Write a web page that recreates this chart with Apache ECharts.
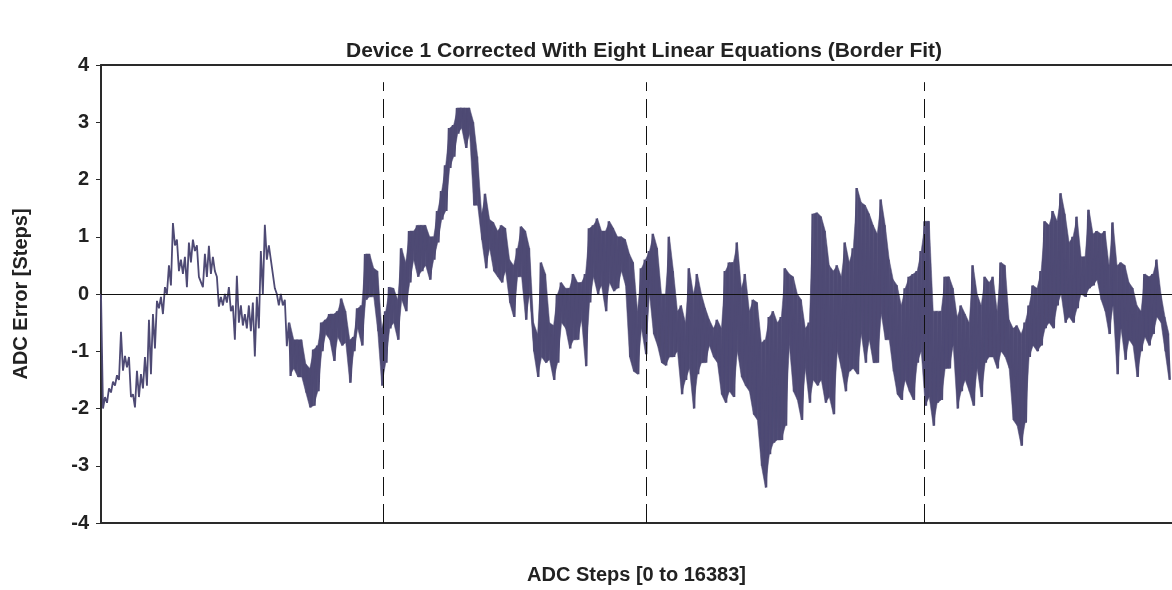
<!DOCTYPE html>
<html>
<head>
<meta charset="utf-8">
<script src="https://cdn.jsdelivr.net/npm/echarts@6/dist/echarts.min.js"></script>
<style>
html,body{margin:0;padding:0;background:#fff;}
#chart{width:1172px;height:590px;}
</style>
</head>
<body>
<div id="chart"></div>
<script>
// ADC steps range of the x axis
const adcStepMax = 16383;
// y axis ticks
const yTicks = [-4, -3, -2, -1, 0, 1, 2, 3, 4];
// segment borders (ADC steps) of the linear-equation fit
const borderSteps = [4314, 8337, 12589];
// first column from which the trace is a dense noise band
const denseFromColumn = 47;
// Error envelope: per evenly spaced column, the upper and lower excursion (steps)
const errorHigh = [
  0, -1.8, -1.65, -1.53, -1.42, -0.66, -1.08, -1.1, -1.75, -1.34,
  -1.4, -1.1, -0.45, -0.35, -0.12, -0.05, 0.12, 0.5, 1.24, 0.95,
  0.6, 0.65, 0.9, 0.95, 0.85, 0.3, 0.7, 0.84, 0.65, 0.3,
  -0.05, 0.0, 0.12, -0.2, 0.32, -0.2, -0.35, -0.2, -0.15, -0.05,
  0.75, 1.21, 0.85, 0.6, 0.0, 0.0, -0.1, -0.5, -0.8, -0.8,
  -0.8, -1.22, -1.3, -0.97, -0.9, -0.5, -0.45, -0.35, -0.35, -0.3,
  -0.08, -0.3, -0.8, -0.75, -0.25, -0.2, 0.7, 0.7, 0.45, 0.4,
  -0.6, -0.3, 0.12, 0.1, -0.1, 0.8, 0.55, 1.1, 1.1, 1.2,
  1.2, 1.2, 1.0, 1.0, 1.45, 1.8, 2.25, 2.9, 2.95, 3.25,
  3.25, 3.25, 3.25, 3.0, 2.4, 1.4, 1.75, 1.3, 1.25, 1.1,
  1.2, 1.15, 0.6, 0.5, 0.8, 1.18, 1.1, 0.8, -0.5, -0.7,
  0.55, 0.35, -0.5, -0.55, 0.0, 0.2, 0.1, 0.1, 0.35, 0.2,
  0.2, 0.35, 1.15, 1.2, 1.32, 1.1, 1.1, 1.27, 1.15, 1.0,
  1.0, 0.95, 0.7, 0.55, -0.3, 0.45, 0.6, 0.75, 1.05, 0.8,
  0.0, 0.0, 1.0, 0.4, -0.3, -0.2, -0.5, 0.45, 0.0, 0.35,
  0.0, -0.25, -0.45, -0.6, -0.45, -0.6, 0.4, 0.55, 0.55, 0.9,
  0.1, 0.35, -0.3, -0.1, -0.15, -0.85, -0.8, -0.4, -0.3, -0.5,
  -0.4, 0.45, 0.35, 0.3, 0.0, -0.1, -0.6, -0.5, 1.4, 1.42,
  1.35, 1.1, 0.5, 0.4, 0.5, 0.3, 0.9, 0.55, 0.8, 1.85,
  1.6, 1.55, 1.4, 1.2, 1.05, 1.65, 1.2, 0.6, 0.25, 0.15,
  -0.2, 0.1, 0.3, 0.35, 0.4, 0.75, 1.27, 1.27, -0.3, -0.3,
  -0.3, 0.3, 0.3, 0.1, -0.4, -0.2, -0.35, -0.5, 0.5, 0.0,
  -0.2, 0.3, 0.2, 0.3, -0.3, 0.55, 0.5, -0.45, -0.6, -0.55,
  -0.7, -0.5, -0.2, 0.15, 0.1, 0.4, 1.27, 1.2, 1.45, 1.27,
  1.76, 1.4, 0.9, 1.0, 1.35, 0.65, 0.65, 1.47, 1.05, 1.1,
  1.05, 1.1, 0.5, 1.25, 0.5, 0.55, 0.5, 0.2, 0.1, -0.2,
  -0.3, 0.35, 0.3, 0.35, 0.6, 0.0, -0.4, -0.7
];
const errorLow = [
  -2.0, -1.9, -1.72, -1.6, -1.5, -1.34, -1.28, -1.8, -1.98, -1.8,
  -1.65, -1.6, -1.4, -0.95, -0.25, -0.35, 0.0, 0.15, 0.85, 0.4,
  0.35, 0.12, 0.55, 0.75, 0.3, 0.12, 0.3, 0.35, 0.4, -0.22,
  -0.2, -0.15, -0.3, -0.8, -0.5, -0.55, -0.6, -0.65, -1.09, -0.6,
  0.0, 0.6, 0.6, 0.1, -0.2, -0.2, -0.91, -1.43, -1.3, -1.45,
  -1.45, -1.72, -1.98, -1.95, -1.7, -1.0, -0.7, -0.8, -1.17, -0.75,
  -0.9, -0.85, -1.55, -1.0, -0.6, -0.9, -0.1, -0.05, -0.05, -0.65,
  -1.6, -1.2, -0.6, -0.5, -0.8, -0.1, -0.3, 0.2, 0.6, 0.3,
  0.4, 0.5, 0.25, 0.6, 0.9, 1.3, 1.45, 2.2, 2.4, 2.8,
  2.9, 2.55, 2.8, 1.55, 1.55, 0.95, 0.45, 0.8, 0.4, 0.3,
  0.2, 0.4, -0.15, -0.4, 0.3, 0.3, -0.45, 0.0, -1.0, -1.45,
  -1.1, -1.2, -1.15, -1.5, -1.2, -0.5, -0.6, -0.95, -0.8, -0.8,
  -0.45, -1.26, -0.15, 0.3, 0.0, 0.15, -0.3, 0.2, 0.05, 0.1,
  0.4, 0.15, -1.1, -1.35, -1.4, -0.6, -1.05, 0.0, -0.7, -0.9,
  -1.2, -1.25, -1.1, -1.1, -1.0, -1.75, -1.5, -1.3, -2.0, -1.4,
  -1.2, -1.2, -0.9, -1.1, -1.2, -1.75, -1.9, -1.7, -1.8, -1.0,
  -1.45, -1.6, -1.7, -2.1, -2.2, -3.0, -3.38, -2.8, -2.6, -2.55,
  -2.55, -2.3, -0.9, -1.7, -1.85, -2.2, -1.3, -1.9, -1.5, -1.6,
  -1.5, -1.9, -1.8, -2.1, -1.0, -1.3, -1.7, -1.35, -1.3, -1.4,
  -0.7, -1.2, -0.8, -1.2, -1.2, -0.35, -0.8, -0.8, -1.35, -1.75,
  -1.85, -1.5, -1.7, -1.85, -1.2, -1.0, -1.95, -1.8, -2.3, -1.9,
  -1.85, -1.3, -1.3, -0.9, -2.0, -1.7, -1.5, -1.7, -1.95, -1.3,
  -1.8, -1.2, -1.1, -1.1, -1.3, -1.0, -1.1, -1.3, -2.2, -2.3,
  -2.65, -2.25, -1.1, -0.9, -1.0, -0.9, -0.6, -0.5, -0.6, -0.2,
  0.0, -0.5, -0.4, -0.5, -0.25, 0.0, -0.05, 0.1, 0.15, 0.25,
  -0.1, -0.3, -0.7, -0.2, -1.4, -0.6, -1.15, -0.8, -0.9, -1.45,
  -1.0, -0.75, -0.9, -0.7, -0.4, -0.5, -1.0, -1.5
];

const LINE_COLOR = '#4e4a74';
const colW = adcStepMax / errorHigh.length;
const traceData = [];
for (let i = 0; i < errorHigh.length; i++) {
  traceData.push([i * colW, errorHigh[i]]);
  traceData.push([(i + 0.5) * colW, errorLow[i]]);
}
// band rows between neighbouring columns of the dense part: [x0, lo0, hi0, x1, lo1, hi1]
const bandRows = [];
for (let i = denseFromColumn; i < errorHigh.length - 1; i++) {
  bandRows.push([(i + 0.25) * colW, errorLow[i], errorHigh[i],
                 (i + 1.25) * colW, errorLow[i + 1], errorHigh[i + 1]]);
}

const FONT = "'Liberation Sans', Arial, sans-serif";
const TXT = {fontFamily: FONT, fontWeight: 'bold', fontSize: 20, color: '#222'};
const chart = echarts.init(document.getElementById('chart'), null, {renderer: 'canvas'});
chart.setOption({
  animation: false,
  backgroundColor: '#ffffff',
  title: {
    text: 'Device 1 Corrected With Eight Linear Equations (Border Fit)',
    left: 639, top: 36, textAlign: 'center',
    textStyle: Object.assign({}, TXT, {fontSize: 21})
  },
  grid: {left: 101, right: 0, top: 65, bottom: 61, containLabel: false},
  xAxis: [{
    type: 'value', min: 0, max: adcStepMax,
    name: 'ADC Steps [0 to 16383]', nameLocation: 'middle', nameGap: 42,
    nameTextStyle: TXT,
    axisLine: {show: true, onZero: false, lineStyle: {color: '#2a2a2a', width: 2}},
    axisTick: {show: false}, axisLabel: {show: false}, splitLine: {show: false}
  }, {
    type: 'value', min: 0, max: adcStepMax, position: 'top',
    axisLine: {show: true, onZero: false, lineStyle: {color: '#2a2a2a', width: 2}},
    axisTick: {show: false}, axisLabel: {show: false}, splitLine: {show: false}
  }],
  yAxis: {
    type: 'value', min: yTicks[0], max: yTicks[yTicks.length - 1], interval: 1,
    name: 'ADC Error [Steps]', nameLocation: 'middle', nameGap: 70, nameRotate: 90,
    nameTextStyle: TXT,
    axisLine: {show: true, onZero: false, lineStyle: {color: '#2a2a2a', width: 2}},
    axisTick: {show: true, inside: false, length: 5, lineStyle: {color: '#2a2a2a', width: 1}},
    axisLabel: Object.assign({}, TXT, {margin: 12}),
    splitLine: {show: false}
  },
  series: [{
    type: 'line', data: [], z: 1, silent: true,
    markLine: {
      silent: true, symbol: 'none', animation: false,
      label: {show: false},
      data: [
        {yAxis: 0, lineStyle: {color: '#111', width: 1, type: 'solid'}}
      ].concat(borderSteps.map(s => [
        {coord: [s, yTicks[0]], lineStyle: {color: '#111', width: 1, type: [19, 8]}},
        {coord: [s, 3.7]}
      ]))
    }
  }, {
    type: 'custom', data: bandRows, z: 2, silent: true,
    encode: {x: [0, 3], y: [1, 2, 4, 5]},
    renderItem: function (params, api) {
      const a = api.coord([api.value(0), api.value(2)]);
      const b = api.coord([api.value(3), api.value(5)]);
      const c = api.coord([api.value(3), api.value(4)]);
      const d = api.coord([api.value(0), api.value(1)]);
      return {
        type: 'polygon',
        shape: {points: [a, b, c, d]},
        style: {fill: LINE_COLOR, stroke: LINE_COLOR, lineWidth: 0.5}
      };
    }
  }, {
    type: 'line', data: traceData, z: 3,
    showSymbol: false, symbol: 'none', sampling: 'none', smooth: false,
    lineStyle: {color: LINE_COLOR, width: 1.8},
    silent: true
  }]
});
</script>
</body>
</html>
